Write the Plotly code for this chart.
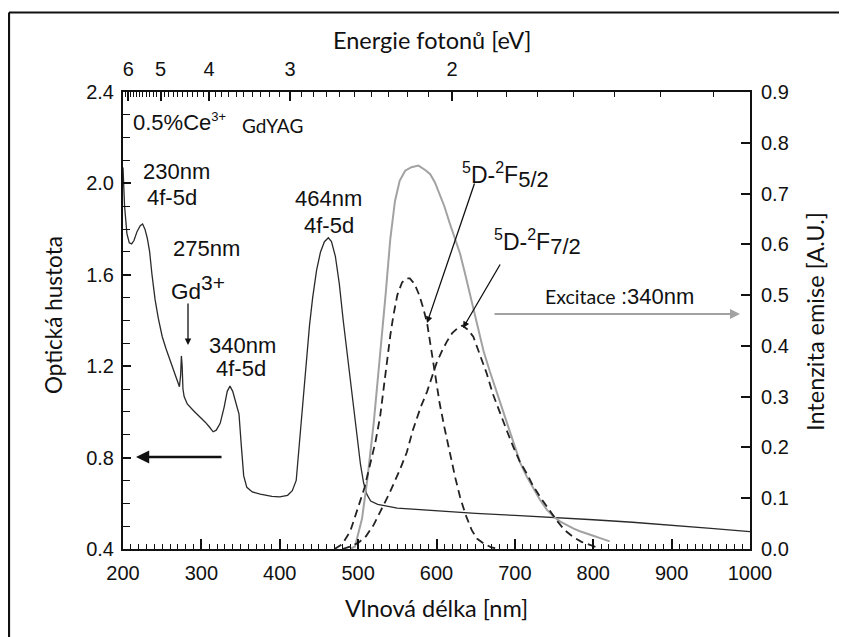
import plotly.graph_objects as go

# ---------------- data ----------------
# absorption spectrum (optical density, left axis)
lam_abs = [200, 202, 205, 208, 211, 214, 218, 222, 225, 228, 231, 234, 237, 241, 245,
           250, 255, 260, 265, 270, 272, 273.5, 274.5, 275.5, 276.5, 278, 282, 290, 298,
           305, 310, 315, 319, 324, 329, 333, 336.5, 340, 344, 348, 351, 354, 358, 365,
           375, 390, 400, 410, 416, 421, 426, 430, 434, 438, 442, 447, 452, 457, 462,
           466, 471, 476, 481, 485.5, 490, 494, 499, 503, 507, 511, 516, 525, 550, 600,
           650, 700, 750, 800, 850, 900, 950, 1000]
od_abs = [2.07, 1.90, 1.78, 1.74, 1.735, 1.75, 1.79, 1.815, 1.822, 1.80, 1.76, 1.70, 1.60,
          1.49, 1.41, 1.33, 1.275, 1.225, 1.18, 1.125, 1.11, 1.16, 1.245, 1.20, 1.10, 1.067,
          1.035, 1.005, 0.979, 0.955, 0.935, 0.913, 0.92, 0.95, 1.02, 1.09, 1.113, 1.09,
          1.04, 0.99, 0.85, 0.72, 0.67, 0.65, 0.64, 0.63, 0.628, 0.635, 0.655, 0.70, 0.90,
          1.07, 1.25, 1.38, 1.50, 1.62, 1.70, 1.745, 1.762, 1.745, 1.68, 1.56, 1.40, 1.27,
          1.15, 1.04, 0.88, 0.77, 0.69, 0.64, 0.61, 0.595, 0.579, 0.566, 0.556, 0.547,
          0.539, 0.528, 0.517, 0.505, 0.49, 0.476]

# emission spectrum (right axis, grey)
lam_em = [490, 496, 505, 512, 520, 528, 535, 541, 547, 553, 560, 568, 577, 586, 592, 598,
          604, 610, 617, 624, 630, 636, 643, 651, 660, 668, 681, 688, 694, 700, 707, 715,
          724, 732, 741, 750, 758, 766, 775, 783, 792, 800, 808, 817, 821]
i_em = [0.0, 0.005, 0.06, 0.14, 0.25, 0.38, 0.50, 0.61, 0.685, 0.725, 0.745, 0.752, 0.755,
        0.746, 0.738, 0.722, 0.70, 0.675, 0.641, 0.61, 0.582, 0.545, 0.50, 0.445, 0.39,
        0.35, 0.29, 0.255, 0.228, 0.20, 0.169, 0.143, 0.118, 0.097, 0.077, 0.063, 0.054,
        0.047, 0.04, 0.035, 0.031, 0.026, 0.022, 0.018, 0.015]

# fitted band 5D-2F5/2 (dashed)
lam_f52 = [470, 480, 490, 500, 508, 515, 522, 528, 532, 536, 541, 545, 550, 556, 562, 566,
           572, 578, 583, 588, 596, 604, 610, 617, 624, 630, 637, 645, 652, 660, 670, 680]
i_f52 = [0.0, 0.01, 0.035, 0.08, 0.12, 0.165, 0.21, 0.26, 0.31, 0.359, 0.42, 0.46, 0.50,
         0.525, 0.533, 0.533, 0.522, 0.50, 0.475, 0.445, 0.366, 0.287, 0.24, 0.188, 0.14,
         0.103, 0.068, 0.037, 0.02, 0.011, 0.003, 0.0]

# fitted band 5D-2F7/2 (dashed)
lam_f72 = [480, 490, 500, 510, 520, 530, 540, 553, 562, 570, 580, 588, 595, 600, 607, 613,
           620, 627, 633, 640, 647, 655, 664, 672, 681, 690, 698, 706, 715, 723, 732, 742,
           753, 763, 774, 785, 796, 805]
i_f72 = [0.0, 0.005, 0.012, 0.025, 0.048, 0.078, 0.11, 0.155, 0.19, 0.235, 0.28, 0.31,
         0.345, 0.366, 0.39, 0.408, 0.425, 0.435, 0.44, 0.432, 0.418, 0.385, 0.346, 0.305,
         0.267, 0.232, 0.201, 0.173, 0.149, 0.125, 0.103, 0.08, 0.057, 0.038, 0.024, 0.014,
         0.008, 0.003]

# axes ticks
x_major = [200, 300, 400, 500, 600, 700, 800, 900, 1000]
od_ticks = [0.4, 0.8, 1.2, 1.6, 2.0, 2.4]
int_ticks = [0.0, 0.1, 0.2, 0.3, 0.4, 0.5, 0.6, 0.7, 0.8, 0.9]
ev_major = [6, 5, 4, 3, 2]
ev_minor = [6.2, 6.1, 6.0, 5.9, 5.8, 5.7, 5.6, 5.5, 5.4, 5.3, 5.2, 5.1, 5.0, 4.9, 4.8, 4.7,
            4.6, 4.5, 4.4, 4.3, 4.2, 4.1, 4.0, 3.9, 3.8, 3.7, 3.6, 3.5, 3.4, 3.3, 3.2, 3.1,
            3.0, 2.9, 2.8, 2.7, 2.6, 2.5, 2.4, 2.3, 2.2, 2.1, 2.0, 1.9, 1.8, 1.7, 1.6, 1.5,
            1.4, 1.3]
HC = 1239.84  # nm*eV

# ---------------- figure ----------------
# page body has an 8px margin, so the figure is placed 8px in from the window corner
OFF = 8
W, H = 847 - OFF, 637 - OFF
PL, PT, PW, PH = 123, 92, 627, 457          # plot area in window pixels
L, T = PL - OFF, PT - OFF
R, B = W - L - PW, H - T - PH

def px2x(px):
    return 200 + (px - PL) / PW * 800

def py2od(py):
    return 0.4 + (PT + PH - py) / PH * 2.0

def ppx(px):
    return (px - PL) / PW

def ppy(py):
    return (PT + PH - py) / PH

NUM = "Liberation Sans, Arial, sans-serif"
CAL = "Lato, sans-serif"
BLACK = "#111111"
GREY = "#a2a2a2"

fig = go.Figure()
fig.add_trace(go.Scatter(x=lam_abs, y=od_abs, mode="lines",
                         line=dict(color="#2a2a2a", width=1.3), xaxis="x", yaxis="y",
                         hoverinfo="skip", showlegend=False))
fig.add_trace(go.Scatter(x=lam_abs, y=od_abs, mode="lines", opacity=0,
                         xaxis="x2", yaxis="y", hoverinfo="skip", showlegend=False))
fig.add_trace(go.Scatter(x=lam_em, y=i_em, mode="lines",
                         line=dict(color=GREY, width=2), xaxis="x", yaxis="y2",
                         hoverinfo="skip", showlegend=False))
fig.add_trace(go.Scatter(x=lam_f52, y=i_f52, mode="lines",
                         line=dict(color="#222222", width=1.8, dash="8px,5px"),
                         xaxis="x", yaxis="y2", hoverinfo="skip", showlegend=False))
fig.add_trace(go.Scatter(x=lam_f72, y=i_f72, mode="lines",
                         line=dict(color="#222222", width=1.8, dash="8px,5px"),
                         xaxis="x", yaxis="y2", hoverinfo="skip", showlegend=False))

tickfont = dict(family=NUM, size=20, color=BLACK)
axline = dict(showline=True, linecolor=BLACK, linewidth=2, showgrid=False, zeroline=False,
              ticks="inside", tickcolor=BLACK)

fig.update_layout(
    width=W, height=H, autosize=False,
    margin=dict(l=L, r=R, t=T, b=B, pad=0),
    paper_bgcolor="white", plot_bgcolor="white",
    showlegend=False,
    xaxis=dict(range=[200, 1000], tickmode="array", tickvals=x_major, ticklen=10,
               tickwidth=1.6, tickfont=tickfont, ticklabelstandoff=5,
               minor=dict(ticks="inside", tickmode="linear", tick0=200, dtick=10,
                          ticklen=5, tickwidth=1.3, tickcolor=BLACK),
               **axline),
    xaxis2=dict(range=[200, 1000], overlaying="x", side="top", anchor="y",
                tickmode="array", tickvals=[HC / e for e in ev_major],
                ticktext=[str(e) for e in ev_major], ticklen=9, tickwidth=1.6,
                tickfont=tickfont, ticklabelstandoff=6,
                minor=dict(ticks="inside", tickmode="array",
                           tickvals=[HC / e for e in ev_minor], ticklen=5,
                           tickwidth=1.2, tickcolor=BLACK),
                **axline),
    yaxis=dict(range=[0.4, 2.4], tickmode="array", tickvals=od_ticks, tickformat=".1f",
               ticklen=8, tickwidth=1.6, tickfont=tickfont, ticklabelstandoff=3,
               minor=dict(ticks="inside", tickmode="linear", tick0=0.4, dtick=0.1,
                          ticklen=7, tickwidth=1.4, tickcolor=BLACK),
               **axline),
    yaxis2=dict(range=[0, 0.9], overlaying="y", side="right", anchor="x",
                tickmode="array", tickvals=int_ticks, tickformat=".1f", ticklen=9,
                tickwidth=1.6, tickfont=tickfont, ticklabelstandoff=5, **axline),
)

ann = []

def txt(text, px, py, size=22, family=NUM, xanchor="center", color=BLACK):
    ann.append(dict(text=text, x=px2x(px), y=py2od(py), xref="x", yref="y",
                    showarrow=False, xanchor=xanchor, yanchor="middle",
                    font=dict(family=family, size=size, color=color)))

def arrow(tx, ty, hx, hy, width=1.3, color=BLACK, head=2, size=1.0):
    ann.append(dict(text="", x=px2x(hx), y=py2od(hy), ax=px2x(tx), ay=py2od(ty),
                    xref="x", yref="y", axref="x", ayref="y", showarrow=True,
                    arrowhead=head, arrowsize=size, arrowwidth=width, arrowcolor=color))

def sz(t, s):
    return '<span style="font-size:%dpx">%s</span>' % (s, t)

txt("0.5%Ce<sup>" + sz("3+", 13) + "</sup>", 131, 122, xanchor="left")
txt("GdYAG", 240, 125, size=19, family=CAL, xanchor="left")
txt("230nm", 176, 171)
txt("4f-5d", 172, 197)
txt("275nm", 206, 248)
txt("Gd<sup>" + sz("3+", 21) + "</sup>", 198, 287, size=22.5)
txt("340nm", 242, 345)
txt("4f-5d", 241, 368)
txt("464nm", 328, 198)
txt("4f-5d", 329, 225)
txt("<sup>" + sz("5", 16) + "</sup>D-<sup>" + sz("2", 16) + "</sup>F<sub>" + sz("5/2", 22)
    + "</sub>", 505, 175, size=23)
txt("<sup>" + sz("5", 16) + "</sup>D-<sup>" + sz("2", 16) + "</sup>F<sub>" + sz("7/2", 22)
    + "</sub>", 537, 242, size=23)
txt("Excitace", 543, 296, size=19.5, family=CAL, xanchor="left")
txt(":340nm", 619, 296, size=22, xanchor="left")

arrow(188, 302, 188, 345, width=1.3)
arrow(223, 457, 136, 457, width=2.4, head=2, size=1.1)
arrow(475, 182, 427, 323, width=1.3)
arrow(501, 263, 463, 328, width=1.3)
arrow(493, 314, 740, 314, width=2.0, color=GREY, head=2, size=1.0)

def title(text, px, py, size, angle=0):
    ann.append(dict(text=text, x=ppx(px), y=ppy(py), xref="paper", yref="paper",
                    xanchor="center", yanchor="middle", showarrow=False, textangle=angle,
                    font=dict(family=CAL, size=size, color=BLACK)))

title("Energie fotonů [eV]", 432, 40, 23.5)
title("Vlnová délka [nm]", 436, 608, 23.5)
title("Optická hustota", 53, 315, 22.5, -90)
title("Intenzita emise [A.U.]", 815, 322, 23.5, -90)

fig.update_layout(annotations=ann)

# outer frame: only its left and top edges fall inside the picture
fig.add_shape(type="line", xref="paper", yref="paper",
              x0=ppx(9), y0=ppy(12.5), x1=ppx(9), y1=ppy(700),
              line=dict(color=BLACK, width=2.2), layer="above")
fig.add_shape(type="line", xref="paper", yref="paper",
              x0=ppx(9), y0=ppy(12.5), x1=ppx(900), y1=ppy(12.5),
              line=dict(color=BLACK, width=2.2), layer="above")

fig.write_html("out.html")
